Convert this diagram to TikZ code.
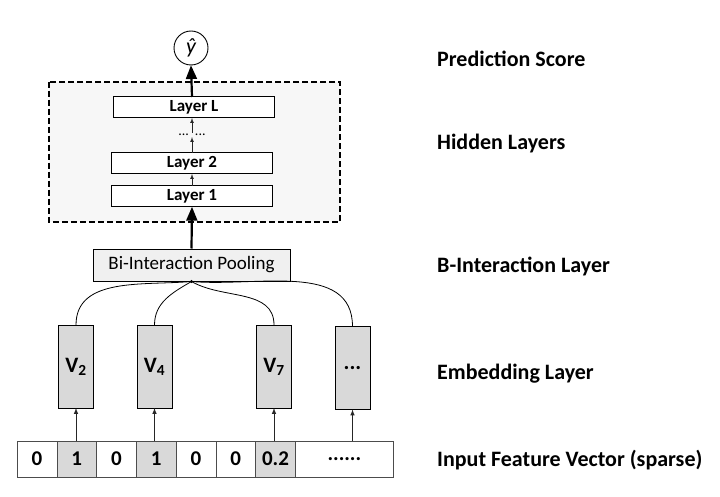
\documentclass[tikz,border=0pt]{standalone}
\usepackage{fontspec}
\setmainfont{Carlito}
\usetikzlibrary{arrows,positioning,shapes.geometric}

\begin{document}
\begin{tikzpicture}[x=1pt,y=1pt]
\tikzstyle{layer}=[draw=black, fill=white, inner sep=0pt, outer sep=0pt,
	line width=1pt, minimum width=161pt, minimum height=21pt,
	font=\fontsize{17}{18}\selectfont\bfseries
]
\tikzstyle{emb}=[draw=black, fill=black!15, inner sep=0pt, outer sep=0pt,
	line width=1pt, minimum width=35pt, minimum height=83pt,
	font=\fontsize{22}{24}\selectfont\bfseries
]
\tikzstyle{cell}=[draw=black!70, inner sep=0pt, outer sep=0pt,
	minimum width=39.75pt, minimum height=36pt,
	font=\fontsize{21}{22}\selectfont\bfseries
]
\tikzstyle{lbl}=[anchor=west, inner sep=0pt, font=\fontsize{22}{24}\selectfont\bfseries]
\tikzstyle{thin arrow}=[-latex, black!85, line width=1pt]
\tikzstyle{thick arrow}=[-triangle 45, line width=2.2pt]

\useasboundingbox (0,0) rectangle (720,-497);
\fill[white] (0,0) rectangle (720,-497);

% hidden layers
\draw[fill=black!3, line width=1.8pt, dash pattern=on 6pt off 3pt] (49,-82) rectangle (340,-222);
\node[circle, draw, line width=0.9pt, minimum size=34pt, inner sep=0pt,
	font=\fontsize{22}{24}\selectfont\itshape] (y) at (191,-48) {ŷ};
\node[layer] (l1) at (192,-196.5) { Layer 1 };
\node[layer] (l2) at (192,-163.5) { Layer 2 };
\node[inner sep=1pt, font=\fontsize{14}{14}\selectfont] (dd) at (192,-135) { ...\hspace{6pt}... };
\node[layer] (lL) at (194,-107.5) { Layer L };

% pooling
\node[draw, fill=black!6, line width=1pt, inner sep=0pt, minimum width=197pt, minimum height=32pt,
	font=\fontsize{19}{20}\selectfont] (pool) at (191.5,-265) { Bi-Interaction Pooling };

% embeddings
\node[emb] (v2) at (76,-366.5) { V\textsubscript{2} };
\node[emb] (v4) at (154.5,-366.5) { V\textsubscript{4} };
\node[emb] (v7) at (274,-366.5) { V\textsubscript{7} };
\node[emb] (vd) at (352.5,-368) { ... };

% input vector
\node[cell] (c1) at (37,-459) { 0 };
\node[cell, fill=black!15, right=0pt of c1] (c2) { 1 };
\node[cell, right=0pt of c2] (c3) { 0 };
\node[cell, fill=black!15, right=0pt of c3] (c4) { 1 };
\node[cell, right=0pt of c4] (c5) { 0 };
\node[cell, right=0pt of c5] (c6) { 0 };
\node[cell, fill=black!15, right=0pt of c6] (c7) { 0.2 };
\node[cell, minimum width=98pt, right=0pt of c7] (c8) { ...... };

% layer names
\node[lbl] (ps) at (437,-59) { Prediction Score };
\node[lbl] (hl) at (437,-144) { Hidden Layers };
\node[lbl] (bl) at (437,-266) { B-Interaction Layer };
\node[lbl] (el) at (437,-374) { Embedding Layer };
\node[lbl] (iv) at (437,-460) { Input Feature Vector (sparse) };

% connections
\draw[thin arrow] (c2.north -| v2) -- (v2.south);
\draw[thin arrow] (c4.north -| v4) -- (v4.south);
\draw[thin arrow] (c7.north -| v7) -- (v7.south);
\draw[thin arrow] (c8.north -| vd) -- (vd.south);
\draw[line width=0.8pt] (pool.south) to[out=185,in=90] (v2.north);
\draw[line width=0.8pt] (pool.south) to[out=210,in=90] (v4.north);
\draw[line width=0.8pt] (pool.south) to[out=-30,in=90] (v7.north);
\draw[line width=0.8pt] (pool.south) to[out=-5,in=90] (vd.north);
\fill (pool.south) circle (1.6pt);
\draw[thick arrow] (pool.north) -- (l1.south);
\draw[thin arrow, line width=0.7pt] (l1.north) -- (l2.south);
\draw[thin arrow, line width=0.7pt] (l2.north) -- (dd.south -| l2.north);
\draw[thin arrow, line width=0.7pt] (dd.north -| l2.north) -- (lL.south -| l2.north);
\draw[thick arrow] (lL.north -| l2.north) -- (y.south);

\end{tikzpicture}
\end{document}
